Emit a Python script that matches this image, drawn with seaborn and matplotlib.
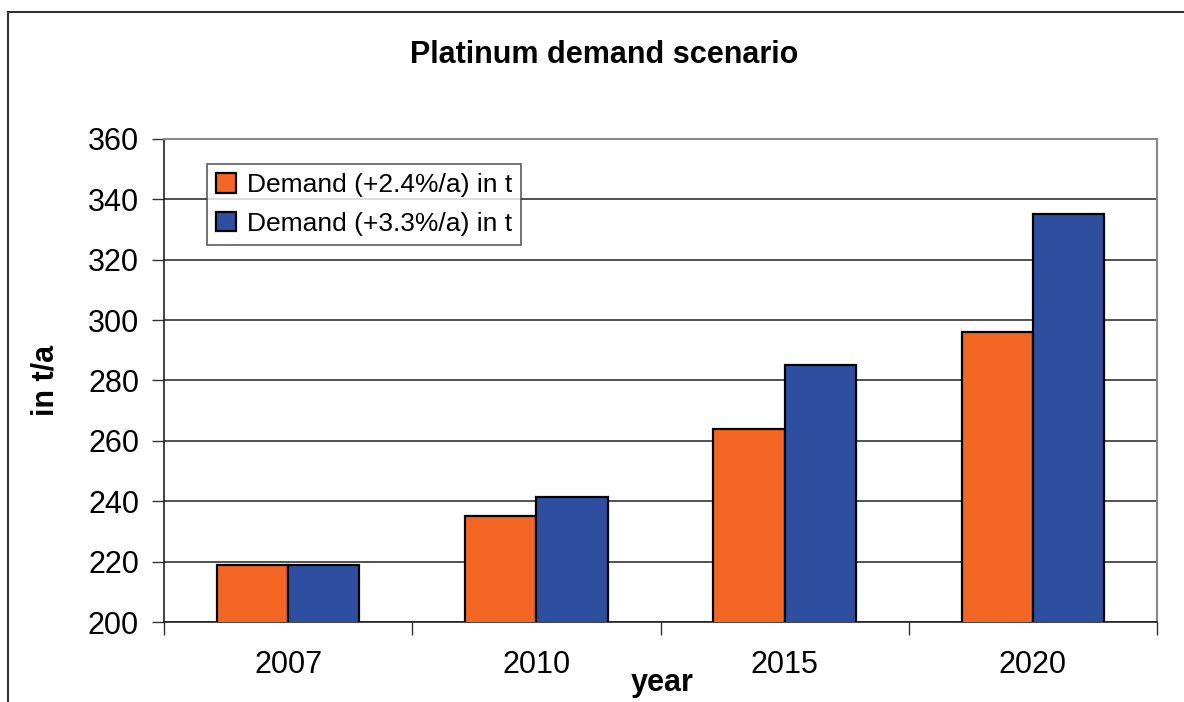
import numpy as np
import pandas as pd
import matplotlib
matplotlib.use("Agg")
import matplotlib.pyplot as plt
import seaborn as sns
from matplotlib.patches import Rectangle

sns.set_style("white")
plt.rcParams['font.family'] = ['Liberation Sans', 'DejaVu Sans']
plt.rcParams['text.color'] = 'black'
plt.rcParams['xtick.color'] = 'black'
plt.rcParams['ytick.color'] = 'black'

years = ["2007", "2010", "2015", "2020"]
demand_low = [219, 235, 264, 296]
demand_high = [219, 241.5, 285, 335]
series_names = ["Demand (+2.4%/a) in t", "Demand (+3.3%/a) in t"]
colors = ["#F36623", "#2E4FA0"]

df = pd.DataFrame({
    "year": years * 2,
    "value": demand_low + demand_high,
    "series": [series_names[0]] * 4 + [series_names[1]] * 4,
})

fig = plt.figure(figsize=(11.84, 7.02), dpi=100)
ax = fig.add_axes([164 / 1184, 1 - 622 / 702, (1157 - 164) / 1184, (622 - 139) / 702])

sns.barplot(data=df, x="year", y="value", hue="series", palette=colors,
            width=0.574, edgecolor="black", linewidth=1.6, ax=ax, zorder=3,
            saturation=1)

ax.set_ylim(200, 360)
ax.set_xlim(-0.5, 3.5)
ax.set_yticks(np.arange(200, 361, 20))
ax.yaxis.grid(True, color="#333333", linewidth=1.2, zorder=0)
ax.set_axisbelow(True)

# ticks: y ticks outward, x ticks only at category boundaries
ax.tick_params(axis="y", direction="out", length=9, width=1, color="#333333",
               labelsize=22, pad=9, left=True)
ax.tick_params(axis="x", which="major", length=0, labelsize=22, pad=20)
ax.set_xticks(np.arange(-0.5, 3.6, 1), minor=True)
ax.tick_params(axis="x", which="minor", direction="out", length=9, width=1,
               color="#333333", bottom=True)

for side in ["left", "bottom"]:
    ax.spines[side].set_color("#222222")
    ax.spines[side].set_linewidth(1.2)
for side in ["top", "right"]:
    ax.spines[side].set_color("#888888")
    ax.spines[side].set_linewidth(1.5)

ax.set_xlabel("")
ax.set_ylabel("")
fig.text(662 / 1184, 1 - 683 / 702, "year", fontsize=22, fontweight="bold",
         ha="center", va="center")
fig.text(46 / 1184, 1 - 380 / 702, "in t/a", fontsize=22, fontweight="bold",
         ha="center", va="center", rotation=90)
fig.text(604 / 1184, 1 - 55 / 702, "Platinum demand scenario", fontsize=22,
         fontweight="bold", ha="center", va="center")

handles, labels = ax.get_legend_handles_labels()
leg = ax.legend(handles, labels, loc="upper left",
                bbox_to_anchor=((207 - 164) / 993, (622 - 164) / 483),
                fontsize=19, frameon=True, fancybox=False, edgecolor="#333333",
                handlelength=0.75, handleheight=0.75, handletextpad=0.4,
                borderpad=0.35, labelspacing=0.55, borderaxespad=0)
leg.get_frame().set_linewidth(1.2)

# outer chart border (extends beyond right and bottom edges)
fig.patches.append(Rectangle((8 / 1184, -0.1), 2, 1 - 12 / 702 + 0.1,
                             transform=fig.transFigure, fill=False,
                             edgecolor="#333333", linewidth=1.5))

fig.savefig("out.png", dpi=100)
